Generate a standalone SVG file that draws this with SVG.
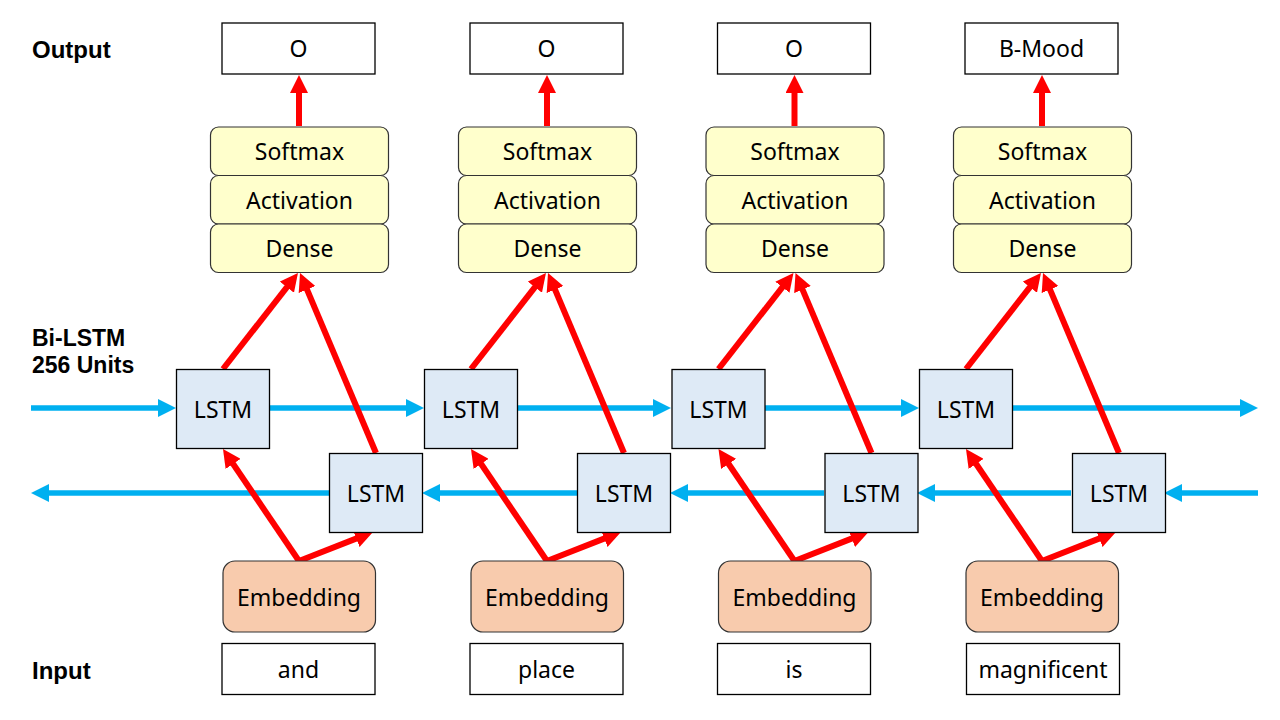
<svg xmlns="http://www.w3.org/2000/svg" width="1280" height="720" viewBox="0 0 1280 720">
<style>
text{font-family:"Noto Sans","Open Sans","DejaVu Sans",sans-serif;font-size:23px;fill:#000;text-anchor:middle}
.lab{font-family:"Liberation Sans",Arial,sans-serif;font-weight:bold;font-size:24px;text-anchor:start}
.box{fill:#fff;stroke:#000;stroke-width:1.3}
.yel{fill:#FFFFCC;stroke:#333;stroke-width:1.2}
.lstm{fill:#DEEAF6;stroke:#000;stroke-width:1.3}
.emb{fill:#F8CBAD;stroke:#333;stroke-width:1.2}
.red{stroke:#FF0000;stroke-width:6;fill:none;marker-end:url(#ar)}
.blue{stroke:#00B0F0;stroke-width:5.5;fill:none;marker-end:url(#ab)}
</style>
<defs>
<marker id="ar" markerUnits="userSpaceOnUse" viewBox="0 0 18 18" markerWidth="18" markerHeight="18" refX="8" refY="9" orient="auto"><path d="M0,0 L18,9 L0,18 z" fill="#FF0000"/></marker>
<marker id="ab" markerUnits="userSpaceOnUse" viewBox="0 0 18 18" markerWidth="18" markerHeight="18" refX="8" refY="9" orient="auto"><path d="M0,0 L18,9 L0,18 z" fill="#00B0F0"/></marker>
</defs>
<rect width="1280" height="720" fill="#fff"/>
<g id="labels">
<text class="lab" x="32" y="58">Output</text>
<text class="lab" x="32" y="346" style="font-size:23px">Bi-LSTM</text>
<text class="lab" x="32" y="373" style="font-size:23px">256 Units</text>
<text class="lab" x="32" y="679">Input</text>
</g>
<g id="connectors">
<line class="blue" x1="31" y1="408" x2="166" y2="408"/>
<line class="blue" x1="269" y1="408" x2="414" y2="408"/>
<line class="blue" x1="517" y1="408" x2="661" y2="408"/>
<line class="blue" x1="764" y1="408" x2="909" y2="408"/>
<line class="blue" x1="1012" y1="408" x2="1248" y2="408"/>
<line class="blue" x1="1258" y1="493" x2="1174" y2="493"/>
<line class="blue" x1="1071" y1="493" x2="927" y2="493"/>
<line class="blue" x1="824" y1="493" x2="680" y2="493"/>
<line class="blue" x1="577" y1="493" x2="432" y2="493"/>
<line class="blue" x1="329" y1="493" x2="41" y2="493"/>
<g id="red-c1">
<line class="red" x1="299" y1="126" x2="299" y2="85"/>
<line class="red" x1="223" y1="369" x2="291.8" y2="280.9"/>
<line class="red" x1="376" y1="453" x2="303.9" y2="282.2"/>
<line class="red" x1="299" y1="561" x2="228.6" y2="457.3"/>
<line class="red" x1="299" y1="561" x2="363.7" y2="535.6"/>
</g>
<use href="#red-c1" transform="translate(248,0)"/>
<use href="#red-c1" transform="translate(495.5,0)"/>
<use href="#red-c1" transform="translate(743,0)"/>
</g>
<g id="col1">
<rect class="box" x="222" y="23" width="153" height="51"/>
<text x="298.5" y="57">O</text>
<rect class="yel" x="210.5" y="127" width="178" height="48.5" rx="8"/>
<text x="299.5" y="160">Softmax</text>
<rect class="yel" x="210.5" y="175.5" width="178" height="48.5" rx="8"/>
<text x="299.5" y="209">Activation</text>
<rect class="yel" x="210.5" y="224" width="178" height="48.5" rx="8"/>
<text x="299.5" y="257">Dense</text>
<rect class="lstm" x="176.5" y="369.5" width="93" height="79"/>
<text x="223" y="418">LSTM</text>
<rect class="lstm" x="329.5" y="453.5" width="93" height="79"/>
<text x="376" y="502">LSTM</text>
<rect class="emb" x="223" y="561" width="152.5" height="71" rx="12"/>
<text x="299" y="606">Embedding</text>
<rect class="box" x="222" y="643.5" width="153" height="51"/>
<text x="298.5" y="678">and</text>
</g>
<g id="col2" transform="translate(248,0)">
<rect class="box" x="222" y="23" width="153" height="51"/>
<text x="298.5" y="57">O</text>
<rect class="yel" x="210.5" y="127" width="178" height="48.5" rx="8"/>
<text x="299.5" y="160">Softmax</text>
<rect class="yel" x="210.5" y="175.5" width="178" height="48.5" rx="8"/>
<text x="299.5" y="209">Activation</text>
<rect class="yel" x="210.5" y="224" width="178" height="48.5" rx="8"/>
<text x="299.5" y="257">Dense</text>
<rect class="lstm" x="176.5" y="369.5" width="93" height="79"/>
<text x="223" y="418">LSTM</text>
<rect class="lstm" x="329.5" y="453.5" width="93" height="79"/>
<text x="376" y="502">LSTM</text>
<rect class="emb" x="223" y="561" width="152.5" height="71" rx="12"/>
<text x="299" y="606">Embedding</text>
<rect class="box" x="222" y="643.5" width="153" height="51"/>
<text x="298.5" y="678">place</text>
</g>
<g id="col3" transform="translate(495.5,0)">
<rect class="box" x="222" y="23" width="153" height="51"/>
<text x="298.5" y="57">O</text>
<rect class="yel" x="210.5" y="127" width="178" height="48.5" rx="8"/>
<text x="299.5" y="160">Softmax</text>
<rect class="yel" x="210.5" y="175.5" width="178" height="48.5" rx="8"/>
<text x="299.5" y="209">Activation</text>
<rect class="yel" x="210.5" y="224" width="178" height="48.5" rx="8"/>
<text x="299.5" y="257">Dense</text>
<rect class="lstm" x="176.5" y="369.5" width="93" height="79"/>
<text x="223" y="418">LSTM</text>
<rect class="lstm" x="329.5" y="453.5" width="93" height="79"/>
<text x="376" y="502">LSTM</text>
<rect class="emb" x="223" y="561" width="152.5" height="71" rx="12"/>
<text x="299" y="606">Embedding</text>
<rect class="box" x="222" y="643.5" width="153" height="51"/>
<text x="298.5" y="678">is</text>
</g>
<g id="col4" transform="translate(743,0)">
<rect class="box" x="222" y="23" width="153" height="51"/>
<text x="298.5" y="57">B-Mood</text>
<rect class="yel" x="210.5" y="127" width="178" height="48.5" rx="8"/>
<text x="299.5" y="160">Softmax</text>
<rect class="yel" x="210.5" y="175.5" width="178" height="48.5" rx="8"/>
<text x="299.5" y="209">Activation</text>
<rect class="yel" x="210.5" y="224" width="178" height="48.5" rx="8"/>
<text x="299.5" y="257">Dense</text>
<rect class="lstm" x="176.5" y="369.5" width="93" height="79"/>
<text x="223" y="418">LSTM</text>
<rect class="lstm" x="329.5" y="453.5" width="93" height="79"/>
<text x="376" y="502">LSTM</text>
<rect class="emb" x="223" y="561" width="152.5" height="71" rx="12"/>
<text x="299" y="606">Embedding</text>
<rect class="box" x="223.5" y="643.5" width="153" height="51"/>
<text x="300" y="678">magnificent</text>
</g>
</svg>
